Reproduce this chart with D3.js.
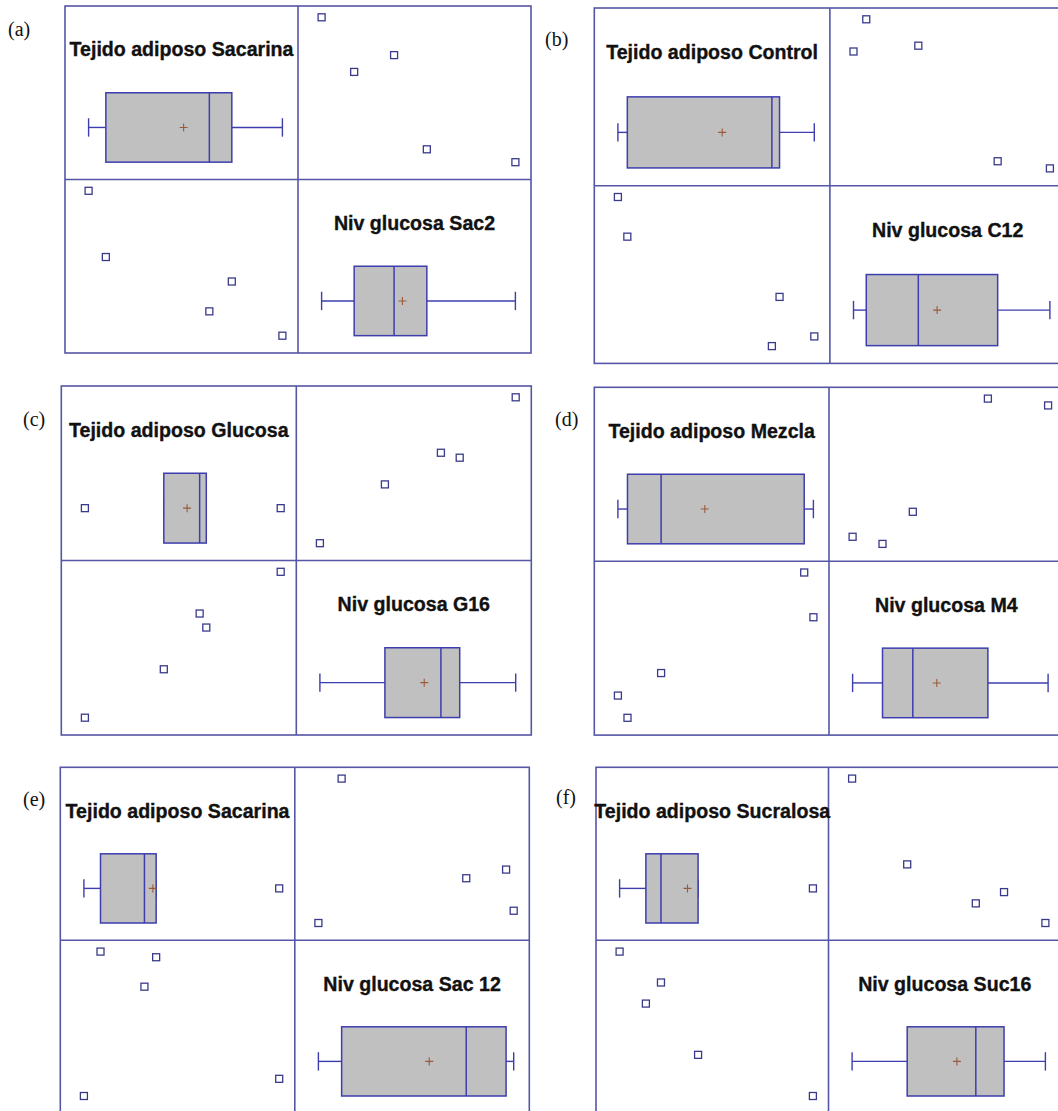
<!DOCTYPE html>
<html>
<head>
<meta charset="utf-8">
<script src="https://cdn.jsdelivr.net/npm/d3@7"></script>
<style>
  html, body { margin: 0; padding: 0; background: #ffffff; }
  svg { display: block; }
</style>
</head>
<body>
<svg id="chart" width="1058" height="1111"></svg>
<script>
// Scatter-plot matrices: adipose tissue vs. blood glucose, five animals per group.
// Values are relative (0–100 within each variable of a group).
const panelLabels = ["(a)", "(b)", "(c)", "(d)", "(e)", "(f)"];
const tejidoTitles = [
  "Tejido adiposo Sacarina", "Tejido adiposo Control", "Tejido adiposo Glucosa",
  "Tejido adiposo Mezcla", "Tejido adiposo Sacarina", "Tejido adiposo Sucralosa"
];
const glucosaTitles = [
  "Niv glucosa Sac2", "Niv glucosa C12", "Niv glucosa G16",
  "Niv glucosa M4", "Niv glucosa Sac 12", "Niv glucosa Suc16"
];

// one entry per animal, same order in both arrays of a group
const tejidoA  = [0, 8.9, 73.9, 62.3, 100];
const glucosaA = [100, 54.3, 37.4, 16.8, 0];
const tejidoB  = [0, 4.8, 78.4, 82.3, 100];
const glucosaB = [100, 73.4, 0, 33.0, 6.5];
const tejidoC  = [0, 40.3, 58.6, 62.0, 100];
const glucosaC = [0, 33.2, 71.4, 61.8, 100];
const tejidoD  = [0, 4.9, 22.1, 95.3, 100];
const glucosaD = [15.3, 0, 30.8, 100, 69.2];
const tejidoE  = [0, 8.5, 31.0, 37.0, 100];
const glucosaE = [0, 100, 75.7, 96.1, 11.9];
const tejidoF  = [0, 13.6, 21.4, 40.6, 100];
const glucosaF = [100, 64.0, 78.6, 28.5, 0];

const tejidoSets  = [tejidoA, tejidoB, tejidoC, tejidoD, tejidoE, tejidoF];
const glucosaSets = [glucosaA, glucosaB, glucosaC, glucosaD, glucosaE, glucosaF];

// panel frames on the page (left, top, cell width, cell height) and label anchors
const frames = [
  { x: 65,    y: 6,     w: 233,   h: 173.5, lx: 8,   ly: 36 },
  { x: 594.3, y: 8,     w: 235.6, h: 177.7, lx: 545, ly: 46 },
  { x: 61.3,  y: 386,   w: 235,   h: 174.5, lx: 23,  ly: 426 },
  { x: 594.3, y: 387.3, w: 234.7, h: 173.9, lx: 555, ly: 426 },
  { x: 60.3,  y: 767.3, w: 234.5, h: 173,   lx: 23,  ly: 806 },
  { x: 596,   y: 767.3, w: 232.5, h: 173,   lx: 556, ly: 804 }
];

const FRAME = "#5656a6";
const BLUE = "#3d3dae";
const MARK = "#3a3a8c";
const FILL = "#c0c0c0";
const MEAN = "#9a5a3a";
const PAD = { l: 23.6, r: 15.6, t: 11.3, b: 17.3 };

const svg = d3.select("#chart");

function boxStats(vals) {
  const s = vals.slice().sort(d3.ascending);
  const q1 = d3.quantile(s, 0.25), med = d3.quantile(s, 0.5), q3 = d3.quantile(s, 0.75);
  const iqr = q3 - q1;
  const lo = q1 - 1.5 * iqr, hi = q3 + 1.5 * iqr;
  const inside = s.filter(v => v >= lo && v <= hi);
  return {
    q1, med, q3, mean: d3.mean(s),
    wLo: d3.min(inside), wHi: d3.max(inside),
    out: s.filter(v => v < lo || v > hi)
  };
}

function square(g, cx, cy) {
  g.append("rect")
    .attr("x", cx - 3.5).attr("y", cy - 3.5)
    .attr("width", 7).attr("height", 7)
    .attr("fill", "#ffffff").attr("stroke", MARK).attr("stroke-width", 1.3);
}

function drawBox(g, vals, x, top, h) {
  const st = boxStats(vals);
  const y0 = top + 0.5 * h, y1 = top + 0.9 * h, cy = (y0 + y1) / 2;
  const cap = 9.2;
  // whiskers
  [[st.wLo, st.q1], [st.q3, st.wHi]].forEach(([a, b]) => {
    g.append("line").attr("x1", x(a)).attr("x2", x(b)).attr("y1", cy).attr("y2", cy)
      .attr("stroke", BLUE).attr("stroke-width", 1.4);
  });
  [st.wLo, st.wHi].forEach(v => {
    g.append("line").attr("x1", x(v)).attr("x2", x(v)).attr("y1", cy - cap).attr("y2", cy + cap)
      .attr("stroke", BLUE).attr("stroke-width", 1.4);
  });
  // box and median
  g.append("rect")
    .attr("x", x(st.q1)).attr("y", y0)
    .attr("width", x(st.q3) - x(st.q1)).attr("height", y1 - y0)
    .attr("fill", FILL).attr("stroke", BLUE).attr("stroke-width", 1.5);
  g.append("line").attr("x1", x(st.med)).attr("x2", x(st.med)).attr("y1", y0).attr("y2", y1)
    .attr("stroke", BLUE).attr("stroke-width", 1.5);
  // mean
  const mx = x(st.mean);
  g.append("path")
    .attr("d", `M${mx - 4},${cy}H${mx + 4}M${mx},${cy - 4}V${cy + 4}`)
    .attr("stroke", MEAN).attr("stroke-width", 1.1).attr("fill", "none");
  // outliers
  st.out.forEach(v => square(g, x(v), cy));
}

function title(g, text, cx, top, h) {
  g.append("text")
    .attr("x", cx).attr("y", top + 0.25 * h + 7)
    .attr("text-anchor", "middle")
    .attr("font-family", "'Liberation Sans', Arial, sans-serif")
    .attr("font-weight", "bold").attr("font-size", 19.6)
    .attr("fill", "#111111")
    .attr("stroke", "#111111").attr("stroke-width", 0.35)
    .text(text);
}

frames.forEach((f, i) => {
  const g = svg.append("g");
  const tej = tejidoSets[i], glu = glucosaSets[i];

  const xT = d3.scaleLinear().domain(d3.extent(tej)).range([f.x + PAD.l, f.x + f.w - PAD.r]);
  const xG = d3.scaleLinear().domain(d3.extent(glu)).range([f.x + f.w + PAD.l, f.x + 2 * f.w - PAD.r]);
  const yT = d3.scaleLinear().domain(d3.extent(tej)).range([f.y + f.h - PAD.b, f.y + PAD.t]);
  const yG = d3.scaleLinear().domain(d3.extent(glu)).range([f.y + 2 * f.h - PAD.b, f.y + f.h + PAD.t]);

  // frame and cell dividers
  g.append("rect").attr("x", f.x).attr("y", f.y).attr("width", 2 * f.w).attr("height", 2 * f.h)
    .attr("fill", "none").attr("stroke", FRAME).attr("stroke-width", 1.6);
  g.append("line").attr("x1", f.x + f.w).attr("x2", f.x + f.w).attr("y1", f.y).attr("y2", f.y + 2 * f.h)
    .attr("stroke", FRAME).attr("stroke-width", 1.6);
  g.append("line").attr("x1", f.x).attr("x2", f.x + 2 * f.w).attr("y1", f.y + f.h).attr("y2", f.y + f.h)
    .attr("stroke", FRAME).attr("stroke-width", 1.6);

  // diagonal: titles and box plots
  title(g, tejidoTitles[i], f.x + f.w / 2, f.y, f.h);
  drawBox(g, tej, xT, f.y, f.h);
  title(g, glucosaTitles[i], f.x + 1.5 * f.w, f.y + f.h, f.h);
  drawBox(g, glu, xG, f.y + f.h, f.h);

  // off-diagonal scatter cells
  tej.forEach((t, k) => {
    square(g, xG(glu[k]), yT(t));   // upper right: glucose vs tissue
    square(g, xT(t), yG(glu[k]));   // lower left: tissue vs glucose
  });

  // panel letter
  svg.append("text")
    .attr("x", f.lx).attr("y", f.ly)
    .attr("font-family", "'Liberation Serif', 'Times New Roman', serif")
    .attr("font-size", 20).attr("fill", "#111111")
    .text(panelLabels[i]);
});
</script>
</body>
</html>
